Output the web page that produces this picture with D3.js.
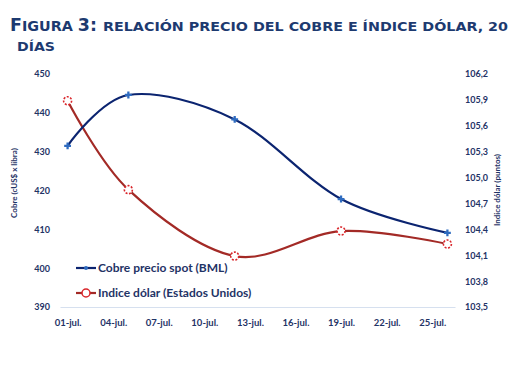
<!DOCTYPE html>
<html><head><meta charset="utf-8">
<script src="https://cdn.jsdelivr.net/npm/d3@7"></script>
<style>
html,body{margin:0;padding:0;background:#fff;}
svg{display:block;}
</style></head>
<body>
<svg id="chart" width="510" height="382"></svg>
<script>
// ---- data ----
const dates = ["2022-07-01", "2022-07-05", "2022-07-12", "2022-07-19", "2022-07-26"];
const cobre = [431.5, 444.6, 438.3, 417.8, 409.1];
const dolar = [105.89, 104.86, 104.09, 104.38, 104.23];
const tickDates = ["2022-07-01","2022-07-04","2022-07-07","2022-07-10","2022-07-13","2022-07-16","2022-07-19","2022-07-22","2022-07-25"];
const tickLabels = ["01-jul.","04-jul.","07-jul.","10-jul.","13-jul.","16-jul.","19-jul.","22-jul.","25-jul."];
const leftTicks = [390, 400, 410, 420, 430, 440, 450];
const rightTicks = [103.5, 103.8, 104.1, 104.4, 104.7, 105.0, 105.3, 105.6, 105.9, 106.2];
const seriesNames = ["Cobre precio spot (BML)", "Indice dólar (Estados Unidos)"];

const blueLine = "#0b2470";
const blueMark = "#2f6cc0";
const redLine = "#a32a26";
const textCol = "#1f3366";

const svg = d3.select("#chart");
const parse = s => new Date(s + "T12:00:00Z");
const DAY = 864e5;

const x = d3.scaleUtc()
  .domain([new Date(parse(dates[0]).getTime() - DAY / 2), new Date(parse("2022-07-26").getTime() + DAY / 2)])
  .range([60, 455]);
const yL = d3.scaleLinear().domain([390, 450]).range([307, 74]);
const yR = d3.scaleLinear().domain([103.5, 106.2]).range([307, 74]);
const xc = s => x(parse(s));

// ---- title ----
const tf = "DejaVu Sans, Verdana, sans-serif";
const title = svg.append("text").attr("x", 10).attr("y", 30.5)
  .attr("font-family", tf).attr("font-weight", "bold").attr("fill", "#1d3a70")
  .attr("textLength", 87).attr("lengthAdjust", "spacingAndGlyphs");
title.append("tspan").attr("font-size", 17).text("F");
title.append("tspan").attr("font-size", 14).text("IGURA ");
title.append("tspan").attr("font-size", 17).text("3:");
svg.append("text").attr("x", 103).attr("y", 30.5)
  .attr("font-family", tf).attr("font-weight", "bold").attr("fill", "#1d3a70")
  .attr("font-size", 13).attr("textLength", 405).attr("lengthAdjust", "spacingAndGlyphs")
  .text("RELACIÓN PRECIO DEL COBRE E ÍNDICE DÓLAR, 20");
svg.append("text").attr("x", 17).attr("y", 51)
  .attr("font-family", tf).attr("font-weight", "bold").attr("fill", "#1d3a70")
  .attr("font-size", 13).attr("textLength", 38).attr("lengthAdjust", "spacingAndGlyphs").text("DÍAS");

// ---- axes ----
const font = "Lato, 'Open Sans', sans-serif";
const gL = svg.append("g").attr("transform", "translate(60,0)")
  .call(d3.axisLeft(yL).tickValues(leftTicks).tickSize(0).tickPadding(10).tickFormat(d3.format("d")));
gL.select(".domain").remove();
gL.selectAll("text").attr("font-family", font).attr("font-weight", "bold").attr("font-size", 9).attr("fill", textCol);

const gR = svg.append("g").attr("transform", "translate(455,0)")
  .call(d3.axisRight(yR).tickValues(rightTicks).tickSize(0).tickPadding(10)
    .tickFormat(d => d3.format(".1f")(d).replace(".", ",")));
gR.select(".domain").remove();
gR.selectAll("text").attr("font-family", font).attr("font-weight", "bold").attr("font-size", 9).attr("fill", textCol);

const gX = svg.append("g").attr("transform", "translate(0,307)")
  .call(d3.axisBottom(x).tickValues(tickDates.map(parse))
    .tickSize(0).tickPadding(12).tickFormat((d, i) => tickLabels[i]));
gX.select(".domain").attr("stroke", "#d6e0ef").attr("stroke-width", 1.2);
gX.selectAll("text").attr("font-family", font).attr("font-weight", "bold").attr("font-size", 9.5).attr("fill", textCol);

// axis titles
svg.append("text").attr("transform", "translate(17,183) rotate(-90)").attr("text-anchor", "middle")
  .attr("font-family", font).attr("font-weight", "bold").attr("font-size", 8).attr("fill", textCol)
  .text("Cobre (cUS$ x libra)");
svg.append("text").attr("transform", "translate(500,190) rotate(-90)").attr("text-anchor", "middle")
  .attr("font-family", font).attr("font-weight", "bold").attr("font-size", 8).attr("fill", textCol)
  .text("Indice dólar (puntos)");

// ---- lines ----
const curve = d3.curveCatmullRom.alpha(0);
const lineL = d3.line().x((d, i) => xc(dates[i])).y(d => yL(d)).curve(curve);
const lineR = d3.line().x((d, i) => xc(dates[i])).y(d => yR(d)).curve(curve);

svg.append("path").attr("d", lineR(dolar)).attr("fill", "none").attr("stroke", redLine).attr("stroke-width", 2.2);
svg.append("path").attr("d", lineL(cobre)).attr("fill", "none").attr("stroke", blueLine).attr("stroke-width", 2.2);

// markers
svg.selectAll(".mR").data(dolar).enter().append("circle")
  .attr("cx", (d, i) => xc(dates[i])).attr("cy", d => yR(d)).attr("r", 4)
  .attr("fill", "#fff").attr("stroke", "#d9262b").attr("stroke-width", 1.6).attr("stroke-dasharray", "2,1.5");
svg.selectAll(".mL").data(cobre).enter().append("path")
  .attr("transform", (d, i) => `translate(${xc(dates[i])},${yL(d)})`)
  .attr("d", d3.symbol(d3.symbolCross, 26)).attr("fill", blueMark);

// ---- legend ----
const lg = svg.append("g");
lg.append("line").attr("x1", 76).attr("x2", 96).attr("y1", 268).attr("y2", 268).attr("stroke", blueLine).attr("stroke-width", 2.2);
lg.append("circle").attr("cx", 86).attr("cy", 268).attr("r", 2).attr("fill", blueMark);
lg.append("text").attr("x", 98).attr("y", 272).attr("font-family", font).attr("font-weight", "bold")
  .attr("font-size", 12).attr("fill", textCol).text(seriesNames[0]);
lg.append("line").attr("x1", 76).attr("x2", 96).attr("y1", 293).attr("y2", 293).attr("stroke", redLine).attr("stroke-width", 2.2);
lg.append("circle").attr("cx", 86).attr("cy", 293).attr("r", 4).attr("fill", "#fff").attr("stroke", "#d9262b").attr("stroke-width", 1.5);
lg.append("text").attr("x", 98).attr("y", 297).attr("font-family", font).attr("font-weight", "bold")
  .attr("font-size", 12).attr("fill", textCol).text(seriesNames[1]);
</script>
</body></html>
